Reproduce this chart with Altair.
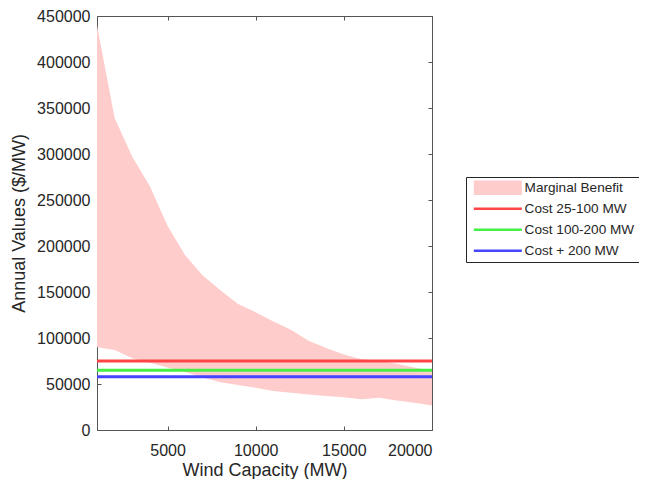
import altair as alt
import pandas as pd

# ---- data ----
capacity = [1000, 2000, 3000, 4000, 5000, 6000, 7000, 8000, 9000, 10000,
            11000, 12000, 13000, 14000, 15000, 16000, 17000, 18000, 19000, 20000]
benefit_high = [440000, 339000, 297000, 265000, 222000, 190000, 168000, 152000, 137000, 128000,
                118000, 109000, 97000, 89000, 82000, 77000, 75000, 72000, 68000, 64000]
benefit_low = [90000, 87000, 78000, 73000, 68000, 63000, 57000, 52000, 49000, 46000,
               42500, 40500, 38500, 37000, 35500, 33500, 35000, 32000, 29500, 26500]

cost_series = ["Cost 25-100 MW", "Cost 100-200 MW", "Cost + 200 MW"]
cost_values = [75000, 65000, 58000]
x_range = [1000, 20000]

legend_labels = ["Marginal Benefit"] + cost_series
legend_colors = ["#FFCCCC", "#FF4545", "#45F045", "#4545FF"]

y_ticks = [0, 50000, 100000, 150000, 200000, 250000, 300000, 350000, 400000, 450000]
x_ticks = [5000, 10000, 15000, 20000]

area_df = pd.DataFrame({"capacity": capacity, "high": benefit_high, "low": benefit_low,
                        "series": "Marginal Benefit"})
cost_df = pd.DataFrame({"series": cost_series, "value": cost_values,
                        "x0": x_range[0], "x1": x_range[1]})

FONT = "Liberation Sans"
TXT = "#262626"
AX = "#555555"


class LayerChartNV(alt.LayerChart):
    def to_dict(self, *args, **kwargs):
        kwargs["validate"] = False
        return super().to_dict(*args, **kwargs)


xscale = alt.Scale(domain=x_range, nice=False, zero=False)
yscale = alt.Scale(domain=[0, 450000], nice=False)
cscale = alt.Scale(domain=legend_labels, range=legend_colors)

is_area = "datum.value === 'Marginal Benefit'"
legend = {
    "title": None, "orient": "none", "legendX": 369, "legendY": 161,
    "symbolType": "M-4,0H4", "symbolSize": 144, "symbolStrokeWidth": 2.5,
    "symbolOffset": 21, "labelOffset": 20,
    "labelFont": FONT, "labelFontSize": 13.6, "labelColor": TXT,
    "strokeColor": TXT, "fillColor": "white", "padding": 4, "rowPadding": 6,
    "encode": {"symbols": {"update": {
        "shape": {"signal": is_area + " ? 'M-4,-1.2H4V1.2H-4Z' : 'M-4,0H4'"},
        "stroke": {"signal": is_area + " ? null : scale('color', datum.value)"},
        "fill": {"signal": is_area + " ? scale('color', datum.value) : null"},
        "strokeWidth": {"signal": is_area + " ? 0 : 2.5"},
        "strokeCap": {"value": "butt"},
        "opacity": {"value": 1}}}},
}

common_axis = dict(labelFont=FONT, titleFont=FONT, labelColor=TXT, titleColor=TXT,
                   tickColor=AX, domain=False, grid=False, tickSize=4, offset=-4,
                   titleFontWeight="normal")

area = alt.Chart(area_df).mark_area(opacity=1).encode(
    x=alt.X("capacity:Q", scale=xscale,
            axis=alt.Axis(title="Wind Capacity (MW)", values=x_ticks, format="d",
                          labelFontSize=16, titleFontSize=18, labelPadding=12,
                          titlePadding=3, **common_axis)),
    y=alt.Y("high:Q", scale=yscale,
            axis=alt.Axis(title="Annual Values ($/MW)", values=y_ticks, format="d",
                          labelFontSize=16, titleFontSize=18, labelPadding=7,
                          titlePadding=8, **common_axis)),
    y2="low:Q",
    color=alt.Color("series:N", scale=cscale, legend=legend),
)

rules = alt.Chart(cost_df).mark_rule(strokeWidth=3).encode(
    x=alt.X("x0:Q", scale=xscale,
            axis=alt.Axis(orient="top", title=None, values=x_ticks, labels=False, **common_axis)),
    x2="x1:Q",
    y=alt.Y("value:Q", scale=yscale,
            axis=alt.Axis(orient="right", title=None, values=y_ticks, labels=False, **common_axis)),
    color=alt.Color("series:N", scale=cscale, legend=legend),
)

chart = LayerChartNV(layer=[area, rules]).resolve_axis(x="independent", y="independent").properties(
    width=335, height=414,
    autosize=alt.AutoSizeParams(type="none"),
    padding={"left": 89, "top": 8, "right": 207, "bottom": 49},
).configure_view(stroke=AX, strokeWidth=1)

chart.save("out.html", embed_options={"renderer": "svg", "actions": False})
